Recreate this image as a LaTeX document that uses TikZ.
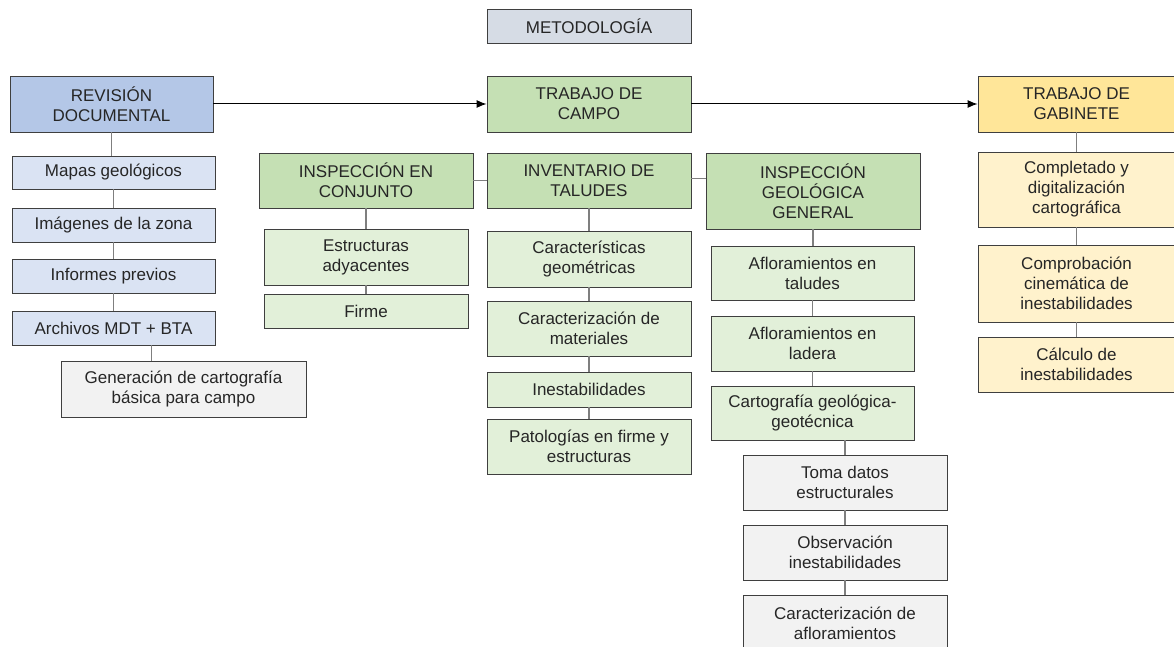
\documentclass[tikz,border=0pt]{standalone}
\usepackage{fontspec}
\setmainfont{Liberation Sans}
\usetikzlibrary{arrows.meta}
\definecolor{edge}{HTML}{3F3F3F}
\definecolor{link}{HTML}{7F7F7F}
\definecolor{ink}{HTML}{262626}
\definecolor{metofill}{HTML}{D6DCE5}
\definecolor{bluehead}{HTML}{B4C7E7}
\definecolor{bluebox}{HTML}{DAE3F3}
\definecolor{greenhead}{HTML}{C5E0B4}
\definecolor{greenbox}{HTML}{E2F0D9}
\definecolor{yellowhead}{HTML}{FFE699}
\definecolor{yellowbox}{HTML}{FFF2CC}
\definecolor{graybox}{HTML}{F2F2F2}

\begin{document}
\begin{tikzpicture}[x=1pt, y=-1pt,
        box/.style={draw=edge, line width=0.9pt, align=center, inner sep=0pt, text=ink,
                    font=\fontsize{17}{20}\selectfont},
        wide/.style={box, minimum width=204pt},
        conn/.style={draw=link, line width=1.3pt},
        flow/.style={draw=black, line width=1pt, -{Latex[length=10pt, width=8pt]}}]
        \useasboundingbox (0,0) rectangle (1174,647);
        \clip (0,0) rectangle (1174,647);
        % Title
        \node[wide, fill=metofill, minimum height=34pt] (meto) at (589,26) {METODOLOGÍA};
        % Main stages
        \node[box, fill=bluehead, minimum width=203pt, minimum height=56pt] (rev) at (111.5,104) {REVISIÓN\\DOCUMENTAL};
        \node[wide, fill=greenhead, minimum height=56pt] (campo) at (589,104) {TRABAJO DE\\CAMPO};
        \node[box, fill=yellowhead, minimum width=197pt, minimum height=56pt] (gab) at (1076.5,104) {TRABAJO DE\\GABINETE};
        % Revision documental
        \node[box, fill=bluebox, minimum width=203pt, minimum height=33pt] (mapas) at (113.5,172.5) {Mapas geológicos};
        \node[box, fill=bluebox, minimum width=203pt, minimum height=34pt] (imag) at (113.5,225) {Imágenes de la zona};
        \node[box, fill=bluebox, minimum width=203pt, minimum height=34pt] (inf) at (113.5,276) {Informes previos};
        \node[box, fill=bluebox, minimum width=203pt, minimum height=34pt] (arch) at (113.5,328) {Archivos MDT + BTA};
        \node[box, fill=graybox, minimum width=245pt, minimum height=56pt] (gen) at (183.5,389) {Generación de cartografía\\básica para campo};
        % Trabajo de campo: inspeccion en conjunto
        \node[box, fill=greenhead, minimum width=214pt, minimum height=55pt] (conj) at (366,180.5) {INSPECCIÓN EN\\CONJUNTO};
        \node[wide, fill=greenbox, minimum height=56pt] (estr) at (366,257) {Estructuras\\adyacentes};
        \node[wide, fill=greenbox, minimum height=34pt] (firme) at (366,311) {Firme};
        % Trabajo de campo: inventario de taludes
        \node[wide, fill=greenhead, minimum height=55pt] (inv) at (589,180.5) {INVENTARIO DE\\TALUDES};
        \node[wide, fill=greenbox, minimum height=56pt] (cgeo) at (589,259) {Características\\geométricas};
        \node[wide, fill=greenbox, minimum height=55pt] (cmat) at (589,328.5) {Caracterización de\\materiales};
        \node[wide, fill=greenbox, minimum height=35pt] (ines) at (589,389.5) {Inestabilidades};
        \node[wide, fill=greenbox, minimum height=55pt] (pato) at (589,446.5) {Patologías en firme y\\estructuras};
        % Trabajo de campo: inspeccion geologica
        \node[box, fill=greenhead, minimum width=214pt, minimum height=76pt] (geo) at (813,191) {INSPECCIÓN\\GEOLÓGICA\\GENERAL};
        \node[box, fill=greenbox, minimum width=203pt, minimum height=54pt] (afta) at (812.5,273) {Afloramientos en\\taludes};
        \node[box, fill=greenbox, minimum width=203pt, minimum height=55pt] (afla) at (812.5,343.5) {Afloramientos en\\ladera};
        \node[box, fill=greenbox, minimum width=203pt, minimum height=54pt] (cart) at (812.5,413) {Cartografía geológica-\\geotécnica};
        \node[wide, fill=graybox, minimum height=55pt] (toma) at (845,482.5) {Toma datos\\estructurales};
        \node[wide, fill=graybox, minimum height=55pt] (obs) at (845,552.5) {Observación\\inestabilidades};
        \node[wide, fill=graybox, minimum height=56pt] (caf) at (845,623) {Caracterización de\\afloramientos};
        % Trabajo de gabinete
        \node[box, fill=yellowbox, minimum width=197pt, minimum height=75pt] (comp) at (1076.5,189.5) {Completado y\\digitalización\\cartográfica};
        \node[box, fill=yellowbox, minimum width=197pt, minimum height=77pt] (cine) at (1076.5,283.5) {Comprobación\\cinemática de\\inestabilidades};
        \node[box, fill=yellowbox, minimum width=197pt, minimum height=55pt] (calc) at (1076.5,364.5) {Cálculo de\\inestabilidades};
        % Vertical links
        \foreach \a/\b in {rev/mapas, mapas/imag, imag/inf, inf/arch,
                           conj/estr, estr/firme,
                           inv/cgeo, cgeo/cmat, cmat/ines, ines/pato,
                           geo/afta, afta/afla, afla/cart,
                           toma/obs, obs/caf,
                           gab/comp, comp/cine, cine/calc} {
            \draw[conn] (\a.south) -- (\a.south |- \b.north);
        }
        \draw[conn] ([xshift=38pt]arch.south) -- ([xshift=38pt]arch.south |- gen.north);
        \draw[conn] (toma.north |- cart.south) -- (toma.north);
        % Horizontal links
        \draw[conn] (conj.east) -- (inv.west);
        \draw[conn] ([yshift=2pt]inv.east) -- ([yshift=2pt]inv.east -| geo.west);
        % Stage arrows
        \draw[flow] (rev.east) -- (campo.west);
        \draw[flow] (campo.east) -- (gab.west);
\end{tikzpicture}
\end{document}
